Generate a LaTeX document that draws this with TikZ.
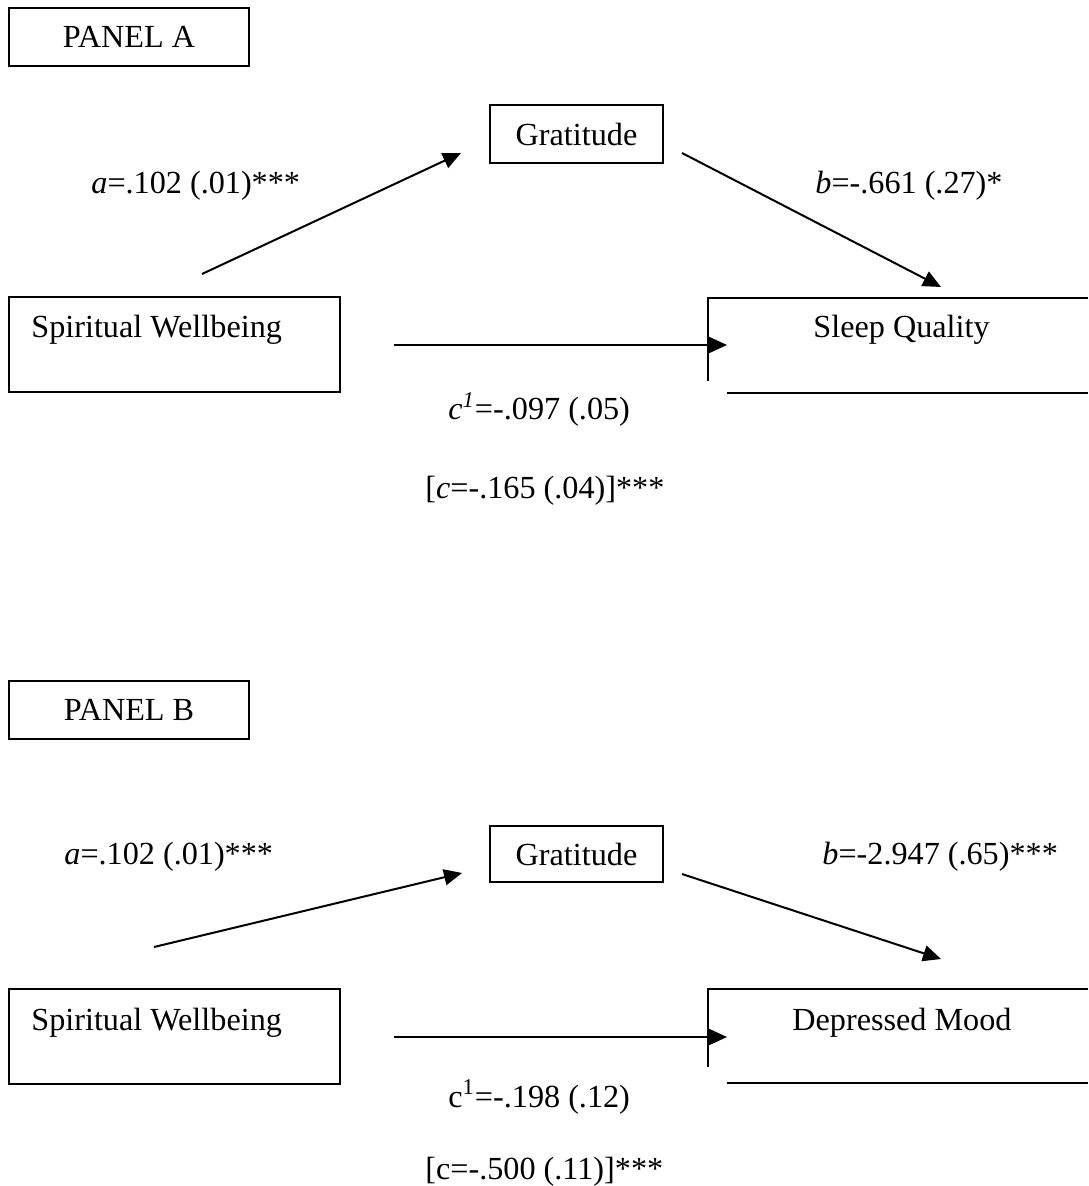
\documentclass[tikz,border=0pt]{standalone}
\usepackage{fontspec}
\setmainfont{Liberation Serif}
\usetikzlibrary{arrows.meta}
\begin{document}
\begin{tikzpicture}[x=0.5pt,y=-0.5pt,
  fnt/.style={font=\fontsize{16.1}{19}\selectfont},
  txt/.style={fnt, inner sep=0pt, anchor=base west},
  box/.style={draw, line width=1pt, inner sep=0pt, fnt},
  edge/.style={line width=1pt},
  arr/.style={line width=1pt, -{Triangle[length=9pt,width=8pt]}}]
\useasboundingbox (0,0) rectangle (1088,1186);

% ---------------- PANEL A ----------------
\node[box, minimum width=120pt, minimum height=29pt] (pA) at (129,37) {PANEL A};
\node[box, minimum width=86.5pt, minimum height=29pt] (gA) at (576.5,134) {Gratitude};
\node[box, minimum width=165.5pt, minimum height=47.5pt] (swA) at (174.5,345) {};
\node[txt] (swAt) at (31,338) {Spiritual Wellbeing};
\node[txt] (sqAt) at (813,338) {Sleep Quality};

\coordinate (sqA1) at (1088,298);
\coordinate (sqA2) at (708,298);
\coordinate (sqA3) at (708,381);
\coordinate (sqA4) at (727,393);
\coordinate (sqA5) at (1088,393);
\draw[edge] (sqA1) -- (sqA2) -- (sqA3);
\draw[edge] (sqA4) -- (sqA5);

\coordinate (aAs) at (202,274);
\coordinate (aAe) at (461,153);
\coordinate (bAs) at (682,153);
\coordinate (bAe) at (941,287);
\coordinate (cAs) at (394,345);
\coordinate (cAe) at (727,345);
\draw[arr] (aAs) -- (aAe);
\draw[arr] (bAs) -- (bAe);
\draw[arr] (cAs) -- (cAe);

\node[txt] (laA) at (91,194) {\textit{a}=.102 (.01)***};
\node[txt] (lbA) at (815,194) {\textit{b}=-.661 (.27)*};
\node[txt] (lcA) at (448,420) {\textit{c}\textsuperscript{\textit{1}}=-.097 (.05)};
\node[txt] (lctA) at (425,498) {[\textit{c}=-.165 (.04)]***};

% ---------------- PANEL B ----------------
\node[box, minimum width=120pt, minimum height=29pt] (pB) at (129,710) {PANEL B};
\node[box, minimum width=86.5pt, minimum height=28pt] (gB) at (576.5,854) {Gratitude};
\node[box, minimum width=165.5pt, minimum height=47.5pt] (swB) at (174.5,1036.5) {};
\node[txt] (swBt) at (31,1030) {Spiritual Wellbeing};
\node[txt] (dmBt) at (792,1030) {Depressed Mood};

\coordinate (dmB1) at (1088,989);
\coordinate (dmB2) at (708,989);
\coordinate (dmB3) at (708,1067);
\coordinate (dmB4) at (727,1083);
\coordinate (dmB5) at (1088,1083);
\draw[edge] (dmB1) -- (dmB2) -- (dmB3);
\draw[edge] (dmB4) -- (dmB5);

\coordinate (aBs) at (154,947);
\coordinate (aBe) at (462,873);
\coordinate (bBs) at (682,874);
\coordinate (bBe) at (941,959);
\coordinate (cBs) at (394,1037);
\coordinate (cBe) at (727,1037);
\draw[arr] (aBs) -- (aBe);
\draw[arr] (bBs) -- (bBe);
\draw[arr] (cBs) -- (cBe);

\node[txt] (laB) at (64,864) {\textit{a}=.102 (.01)***};
\node[txt] (lbB) at (822,864) {\textit{b}=-2.947 (.65)***};
\node[txt] (lcB) at (448,1107) {c\textsuperscript{1}=-.198 (.12)};
\node[txt] (lctB) at (425,1179) {[c=-.500 (.11)]***};
\end{tikzpicture}
\end{document}
